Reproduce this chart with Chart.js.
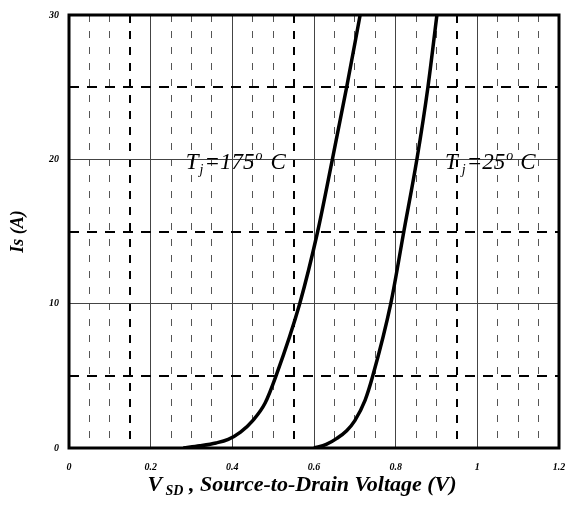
<!DOCTYPE html>
<html lang="en">
<head>
    <meta charset="UTF-8">
    <title>Source-to-Drain Diode Forward Voltage</title>
    <script src="https://cdn.jsdelivr.net/npm/chart.js"></script>
    <style>
        body {
            margin: 0;
            background: #ffffff;
        }
        #chart {
            display: block;
        }
    </style>
</head>
<body>
    <canvas id="chart" width="566" height="505"></canvas>

    <script>
        // Tj = 175 C curve
        const vsd175 = [0.28, 0.32, 0.36, 0.39, 0.42, 0.45, 0.48, 0.507, 0.565, 0.609, 0.645, 0.68, 0.713];
        const is175  = [0,    0.15, 0.35, 0.6,  1.1,  1.9,  3.1,  5,     10,    15,    20,    25,   30];

        // Tj = 25 C curve
        const vsd25 = [0.60, 0.63, 0.656, 0.68, 0.70, 0.725, 0.744, 0.788, 0.82, 0.852, 0.879, 0.901];
        const is25  = [0,    0.25, 0.67,  1.2,  1.9,  3.3,   5,     10,    15,   20,    25,    30];

        const xTicks = [0, 0.2, 0.4, 0.6, 0.8, 1, 1.2];
        const yTicks = [0, 10, 20, 30];
        const heavyX = [0.15, 0.55, 0.95];   // thicker dashed verticals

        const serif = "'Liberation Serif', 'Times New Roman', serif";

        function near(v, list) {
            return list.some(t => Math.abs(v - t) < 1e-6);
        }

        function toPoints(xs, ys) {
            return xs.map((x, i) => ({ x: x, y: ys[i] }));
        }

        function xGridKind(v) {
            if (v < 1e-6 || v > 1.2 - 1e-6) return 'none';
            if (near(v, [0.2, 0.4, 0.6, 0.8, 1.0])) return 'solid';
            if (near(v, heavyX)) return 'heavy';
            return 'thin';
        }

        function yGridKind(v) {
            if (v === 0 || v === 30) return 'none';
            if (v % 10 === 0) return 'solid';
            return 'heavy';
        }

        // rich text: T_j = 175 ^o C
        function drawRich(ctx, x, y, parts) {
            let cx = x;
            parts.forEach(p => {
                ctx.font = 'italic ' + p.size + 'px ' + serif;
                ctx.fillText(p.t, cx, y + (p.dy || 0));
                cx += ctx.measureText(p.t).width + (p.gap || 0);
            });
        }

        const decorPlugin = {
            id: 'decor',
            afterDraw(chart) {
                const ctx = chart.ctx;
                const a = chart.chartArea;
                const xs = chart.scales.x;
                const ys = chart.scales.y;
                ctx.save();

                // frame
                ctx.strokeStyle = '#000';
                ctx.lineWidth = 3;
                ctx.strokeRect(a.left, a.top, a.right - a.left, a.bottom - a.top);

                ctx.fillStyle = '#000';
                ctx.textBaseline = 'alphabetic';
                ctx.textAlign = 'left';

                // curve labels
                drawRich(ctx, xs.getPixelForValue(0.286), ys.getPixelForValue(19.3), [
                    { t: 'T', size: 23, gap: 1 },
                    { t: 'j', size: 14, dy: 5, gap: 1 },
                    { t: '=175', size: 23, gap: 1 },
                    { t: 'o', size: 14, dy: -9, gap: 8 },
                    { t: 'C', size: 23 }
                ]);
                drawRich(ctx, xs.getPixelForValue(0.921), ys.getPixelForValue(19.3), [
                    { t: 'T', size: 23, gap: 4 },
                    { t: 'j', size: 14, dy: 5, gap: 1 },
                    { t: '=25', size: 23, gap: 1 },
                    { t: 'o', size: 14, dy: -9, gap: 7 },
                    { t: 'C', size: 23 }
                ]);

                // x axis title with subscript
                const parts = [
                    { t: 'V', size: 22 },
                    { t: ' SD', size: 14, dy: 4 },
                    { t: ' , Source-to-Drain Voltage (V)', size: 22 }
                ];
                let w = 0;
                parts.forEach(p => {
                    ctx.font = 'italic bold ' + p.size + 'px ' + serif;
                    w += ctx.measureText(p.t).width;
                });
                let cx = (a.left + a.right) / 2 - 12 - w / 2;
                parts.forEach(p => {
                    ctx.font = 'italic bold ' + p.size + 'px ' + serif;
                    ctx.fillText(p.t, cx, 491 + (p.dy || 0));
                    cx += ctx.measureText(p.t).width;
                });

                // y axis title
                ctx.translate(18, (a.top + a.bottom) / 2);
                ctx.rotate(-Math.PI / 2);
                ctx.textAlign = 'center';
                ctx.textBaseline = 'middle';
                ctx.font = 'italic bold 18px ' + serif;
                ctx.fillText('Is (A)', 0, 0);

                ctx.restore();
            }
        };

        new Chart(document.getElementById('chart').getContext('2d'), {
            type: 'line',
            data: {
                datasets: [
                    {
                        label: 'Tj = 175 C',
                        data: toPoints(vsd175, is175),
                        borderColor: '#000',
                        borderWidth: 3.5,
                        pointRadius: 0,
                        cubicInterpolationMode: 'monotone',
                        fill: false
                    },
                    {
                        label: 'Tj = 25 C',
                        data: toPoints(vsd25, is25),
                        borderColor: '#000',
                        borderWidth: 3.5,
                        pointRadius: 0,
                        cubicInterpolationMode: 'monotone',
                        fill: false
                    }
                ]
            },
            options: {
                responsive: false,
                animation: false,
                layout: { padding: { top: 15, right: 7, bottom: 0, left: 0 } },
                plugins: {
                    legend: { display: false },
                    tooltip: { enabled: false }
                },
                scales: {
                    x: {
                        type: 'linear',
                        min: 0,
                        max: 1.2,
                        afterFit(scale) {
                            scale.height = 57;
                            scale.paddingLeft = 0;
                            scale.paddingRight = 0;
                        },
                        ticks: {
                            stepSize: 0.05,
                            autoSkip: false,
                            maxRotation: 0,
                            padding: 13,
                            color: '#000',
                            font: { family: serif, size: 10, style: 'italic', weight: 'bold' },
                            callback: v => near(v, xTicks) ? String(Math.round(v * 10) / 10) : ''
                        },
                        border: {
                            display: false,
                            dash: ctx => {
                                if (!ctx.tick) return [];
                                const k = xGridKind(ctx.tick.value);
                                if (k === 'heavy') return [8, 8];
                                if (k === 'thin') return [7, 9];
                                return [];
                            }
                        },
                        grid: {
                            drawTicks: false,
                            color: ctx => {
                                if (!ctx.tick) return 'rgba(0,0,0,0)';
                                const k = xGridKind(ctx.tick.value);
                                if (k === 'none') return 'rgba(0,0,0,0)';
                                if (k === 'heavy') return '#000';
                                if (k === 'solid') return '#444';
                                return '#555';
                            },
                            lineWidth: ctx => {
                                if (!ctx.tick) return 0;
                                const k = xGridKind(ctx.tick.value);
                                if (k === 'heavy') return 2;
                                return 1;
                            }
                        }
                    },
                    y: {
                        type: 'linear',
                        min: 0,
                        max: 30,
                        afterFit(scale) {
                            scale.width = 69;
                            scale.paddingTop = 0;
                            scale.paddingBottom = 0;
                        },
                        ticks: {
                            stepSize: 5,
                            autoSkip: false,
                            padding: 10,
                            color: '#000',
                            font: { family: serif, size: 10, style: 'italic', weight: 'bold' },
                            callback: v => yTicks.includes(v) ? String(v) : ''
                        },
                        border: {
                            display: false,
                            dash: ctx => {
                                if (!ctx.tick) return [];
                                return yGridKind(ctx.tick.value) === 'heavy' ? [10, 8] : [];
                            }
                        },
                        grid: {
                            drawTicks: false,
                            color: ctx => {
                                if (!ctx.tick) return 'rgba(0,0,0,0)';
                                const k = yGridKind(ctx.tick.value);
                                if (k === 'none') return 'rgba(0,0,0,0)';
                                if (k === 'heavy') return '#000';
                                return '#444';
                            },
                            lineWidth: ctx => {
                                if (!ctx.tick) return 0;
                                return yGridKind(ctx.tick.value) === 'heavy' ? 2 : 1;
                            }
                        }
                    }
                }
            },
            plugins: [decorPlugin]
        });
    </script>
</body>
</html>
